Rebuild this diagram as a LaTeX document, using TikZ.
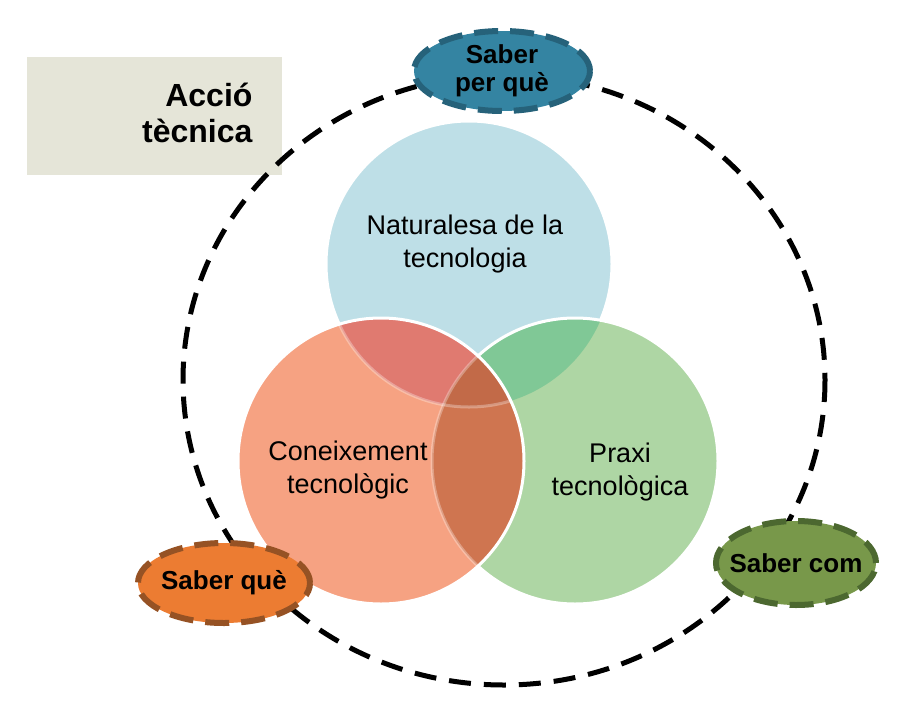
\documentclass[tikz,border=0pt]{standalone}
\usepackage{fontspec}
\setmainfont{Liberation Sans}
\usetikzlibrary{shapes.geometric}

\definecolor{natfill}{RGB}{190,223,231}
\definecolor{confill}{RGB}{246,162,130}
\definecolor{prafill}{RGB}{174,214,164}
\definecolor{nacofill}{RGB}{224,122,112}
\definecolor{naprfill}{RGB}{128,200,150}
\definecolor{coprfill}{RGB}{207,117,80}
\definecolor{allfill}{RGB}{194,106,72}
\definecolor{boxfill}{RGB}{229,229,216}
\definecolor{whyfill}{RGB}{52,132,162}
\definecolor{whyline}{RGB}{38,98,122}
\definecolor{whatfill}{RGB}{236,124,50}
\definecolor{whatline}{RGB}{150,82,36}
\definecolor{howfill}{RGB}{120,152,74}
\definecolor{howline}{RGB}{76,104,48}

\begin{document}
\begin{tikzpicture}[
    x=1pt,y=-1pt,
    setc/.style={circle, minimum size=286pt, inner sep=0pt},
    rim/.style={draw=white, line width=3pt},
    seam/.style={draw=white, draw opacity=0.3, line width=3pt},
    settext/.style={align=center, font=\fontsize{27}{33}\selectfont},
    saber/.style={draw, ellipse, inner sep=0pt, line width=6pt,
      dash pattern=on 24pt off 12pt, align=center,
      font=\bfseries\fontsize{26}{28}\selectfont},
    orbit/.style={draw=black, line width=5pt, dash pattern=on 22pt off 13pt}
  ]
    \useasboundingbox (0,0) rectangle (913,726);
    \fill[white] (0,0) rectangle (913,726);

    % title box
    \node[fill=boxfill, minimum width=255pt, minimum height=118pt, inner sep=0pt]
      (titlebox) at (154.5,116) {};
    \node[align=right, anchor=east, font=\bfseries\fontsize{32}{36}\selectfont]
      (title) at (256,113) {Acció\\tècnica};

    % the three sets
    \node[setc, fill=natfill] (natura) at (469,264) {};
    \draw[rim] (natura.center) circle (143);

    \node[setc, fill=prafill] (praxi) at (575,461) {};
    \begin{scope}
      \clip (natura.center) circle (143);
      \fill[naprfill] (praxi.center) circle (143);
    \end{scope}
    \draw[rim] (praxi.center) circle (143);

    \node[setc, fill=confill] (coneix) at (381,461) {};
    \begin{scope}
      \clip (coneix.center) circle (143);
      \fill[nacofill] (natura.center) circle (143);
      \fill[coprfill] (praxi.center) circle (143);
      \clip (praxi.center) circle (143);
      \fill[allfill] (natura.center) circle (143);
    \end{scope}
    \begin{scope}
      \clip (coneix.center) circle (143);
      \draw[seam] (natura.center) circle (143);
      \draw[seam] (praxi.center) circle (143);
    \end{scope}
    \draw[rim] (coneix.center) circle (143);

    \node[settext] (naturatext) at (465,244) {Naturalesa de la\\tecnologia};
    \node[settext] (coneixtext) at (348,470) {Coneixement\\tecnològic};
    \node[settext] (praxitext) at (620,472) {Praxi\\tecnològica};

    % dashed orbit
    \draw[orbit] (504,380) ellipse [x radius=321, y radius=305];

    % kinds of knowing
    \node[saber, fill=whyfill, draw=whyline, minimum width=176pt, minimum height=80pt]
      (perque) at (502,71) {Saber\\per què};
    \node[saber, fill=whatfill, draw=whatline, inner xsep=-12pt,
      minimum width=172pt, minimum height=80pt]
      (que) at (224,583) {Saber què};
    \node[saber, fill=howfill, draw=howline, inner xsep=-13pt,
      minimum width=160pt, minimum height=84pt]
      (com) at (796,563) {Saber com};
  \end{tikzpicture}
\end{document}
